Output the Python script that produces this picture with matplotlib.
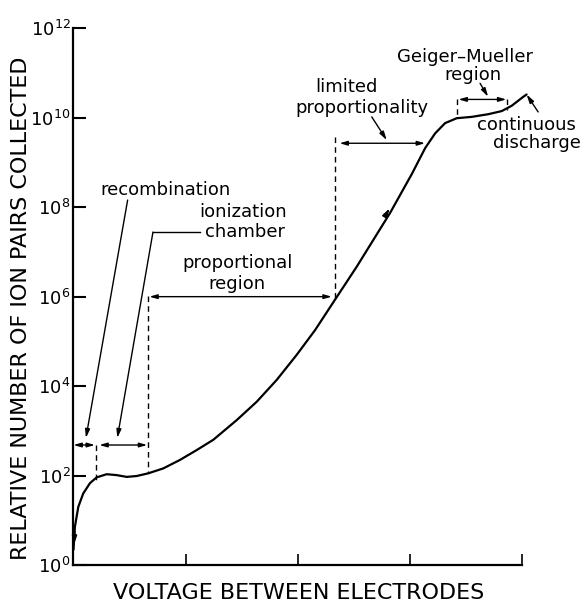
"""
Ion pairs collected versus voltage between electrodes (gas-filled detector regions).
Saves out.png (585x605).
"""
import numpy as np
import matplotlib
matplotlib.use("Agg")
import matplotlib.pyplot as plt

plt.rcParams['font.family'] = ['DejaVu Sans']
plt.rcParams['mathtext.fontset'] = 'dejavusans'

# curve: voltage (arbitrary units) and log10(ion pairs)
voltage = [0.0, 0.013, 0.043, 0.087, 0.147, 0.207, 0.296, 0.385, 0.475, 0.564,
           0.667, 0.801, 0.950, 1.099, 1.247, 1.456, 1.634, 1.813, 1.991, 2.154,
           2.324, 2.526, 2.823, 3.017, 3.136, 3.225, 3.314, 3.418, 3.552, 3.700,
           3.820, 3.909, 4.012, 4.041]
ion_pairs_exp = [0.34, 0.86, 1.30, 1.60, 1.83, 1.96, 2.03, 2.01, 1.97, 1.99,
                 2.05, 2.16, 2.35, 2.57, 2.80, 3.24, 3.65, 4.14, 4.70, 5.25,
                 5.90, 6.67, 7.87, 8.74, 9.32, 9.65, 9.88, 9.99, 10.02, 10.08,
                 10.15, 10.27, 10.47, 10.52]

# region boundaries (voltage) and heights of the span arrows (log10)
bound_recomb = 0.201
bound_ion = 0.667
bound_prop = 2.333
bound_limit_end = 3.135
bound_gm = [3.424, 3.870]
row_low = 2.683
row_prop = 6.0
row_limit = 9.43
row_gm = 10.41

ytick_exp = [0, 2, 4, 6, 8, 10, 12]
xticks = [1, 2, 3, 4]

fig = plt.figure(figsize=(5.85, 6.05), dpi=100)
ax = fig.add_axes([0.1256, 0.0661, 0.7667, 0.8871])

ion_pairs = np.power(10.0, ion_pairs_exp)
ax.plot(voltage, ion_pairs, color='black', lw=1.6, clip_on=False,
        solid_capstyle='round', solid_joinstyle='round')

ax.set_yscale('log')
ax.set_xlim(0, 4)
ax.set_ylim(1, 1e12)
ax.set_yticks([10.0 ** e for e in ytick_exp])
ax.set_yticklabels([r'$10^{%d}$' % e for e in ytick_exp], fontsize=13)
ax.yaxis.set_minor_locator(matplotlib.ticker.NullLocator())
ax.set_xticks(xticks)
ax.set_xticklabels([])
ax.tick_params(axis='y', direction='in', length=9, width=1.5, pad=2)
ax.tick_params(axis='x', direction='in', length=8, width=1.2)
for side in ('top', 'right'):
    ax.spines[side].set_visible(False)
for side in ('left', 'bottom'):
    ax.spines[side].set_linewidth(1.6)

ax.set_ylabel('RELATIVE NUMBER OF ION PAIRS COLLECTED', fontsize=16)
ax.yaxis.set_label_coords(-0.117, 0.478)
ax.yaxis.label.set_ha('center')
ax.yaxis.label.set_va('center')
ax.set_xlabel('VOLTAGE BETWEEN ELECTRODES', fontsize=16)
ax.xaxis.set_label_coords(0.503, -0.052)
ax.xaxis.label.set_va('center')

dash = dict(color='black', lw=1.0, linestyle=(0, (4, 3)))
p = lambda e: 10.0 ** e

# dashed boundaries
ax.plot([bound_recomb, bound_recomb], [p(row_low), p(1.86)], **dash)
ax.plot([bound_ion, bound_ion], [p(6.01), p(2.05)], **dash)
ax.plot([bound_prop, bound_prop], [p(9.575), p(5.90)], **dash)
ax.plot([bound_gm[0], bound_gm[0]], [p(row_gm), p(9.99)], **dash)
ax.plot([bound_gm[1], bound_gm[1]], [p(row_gm), p(10.17)], **dash)

span = dict(arrowstyle='<|-|>,head_length=0.45,head_width=0.13', color='black',
            lw=1.0, shrinkA=0, shrinkB=0)
ax.annotate('', xy=(0.0, p(row_low)), xytext=(bound_recomb - 0.01, p(row_low)),
            arrowprops=span, annotation_clip=False)
ax.annotate('', xy=(bound_recomb + 0.03, p(row_low)), xytext=(bound_ion - 0.01, p(row_low)),
            arrowprops=span)
ax.annotate('', xy=(bound_ion + 0.01, p(row_prop)), xytext=(bound_prop - 0.03, p(row_prop)),
            arrowprops=span)
ax.annotate('', xy=(bound_prop + 0.04, p(row_limit)), xytext=(bound_limit_end, p(row_limit)),
            arrowprops=span)
ax.annotate('', xy=(bound_gm[0] + 0.01, p(row_gm)), xytext=(bound_gm[1] - 0.01, p(row_gm)),
            arrowprops=span)

# leaders from the labels
lead = dict(arrowstyle='-|>,head_length=0.5,head_width=0.14', color='black',
            lw=1.0, shrinkA=0, shrinkB=0)
ax.annotate('', xy=(0.111, p(2.84)), xytext=(0.483, p(8.16)), arrowprops=lead)
ax.plot([1.128, 0.709], [p(7.445), p(7.445)], color='black', lw=1.0)
ax.annotate('', xy=(0.391, p(2.84)), xytext=(0.709, p(7.445)), arrowprops=lead)
ax.annotate('', xy=(2.794, p(9.50)), xytext=(2.660, p(10.02)), arrowprops=lead)
ax.annotate('', xy=(3.698, p(10.47)), xytext=(3.626, p(10.77)), arrowprops=lead)
ax.annotate('', xy=(4.041, p(10.52)), xytext=(4.144, p(10.13)), arrowprops=lead,
            annotation_clip=False)

# direction arrows on the curve
curve_arrow = dict(arrowstyle='-|>,head_length=0.5,head_width=0.14', color='black',
                   lw=1.2, shrinkA=0, shrinkB=0)
ax.annotate('', xy=(2.821, p(7.98)), xytext=(2.777, p(7.80)), arrowprops=curve_arrow)
ax.annotate('', xy=(0.004, p(0.45)), xytext=(0.011, p(0.75)), arrowprops=curve_arrow)

# labels
fs = 13
txt = [
    ('recombination', 0.825, 8.38),
    ('ionization', 1.508, 7.90),
    ('chamber', 1.530, 7.45),
    ('proportional', 1.467, 6.75),
    ('region', 1.456, 6.28),
    ('limited', 2.431, 10.68),
    ('proportionality', 2.574, 10.22),
    ('Geiger\u2013Mueller', 3.492, 11.35),
    ('region', 3.564, 10.96),
    ('continuous', 4.036, 9.84),
    ('discharge', 4.134, 9.43),
]
for s, x, e in txt:
    ax.text(x, p(e), s, fontsize=fs, ha='center', va='center', clip_on=False)

fig.savefig('out.png', dpi=100)
